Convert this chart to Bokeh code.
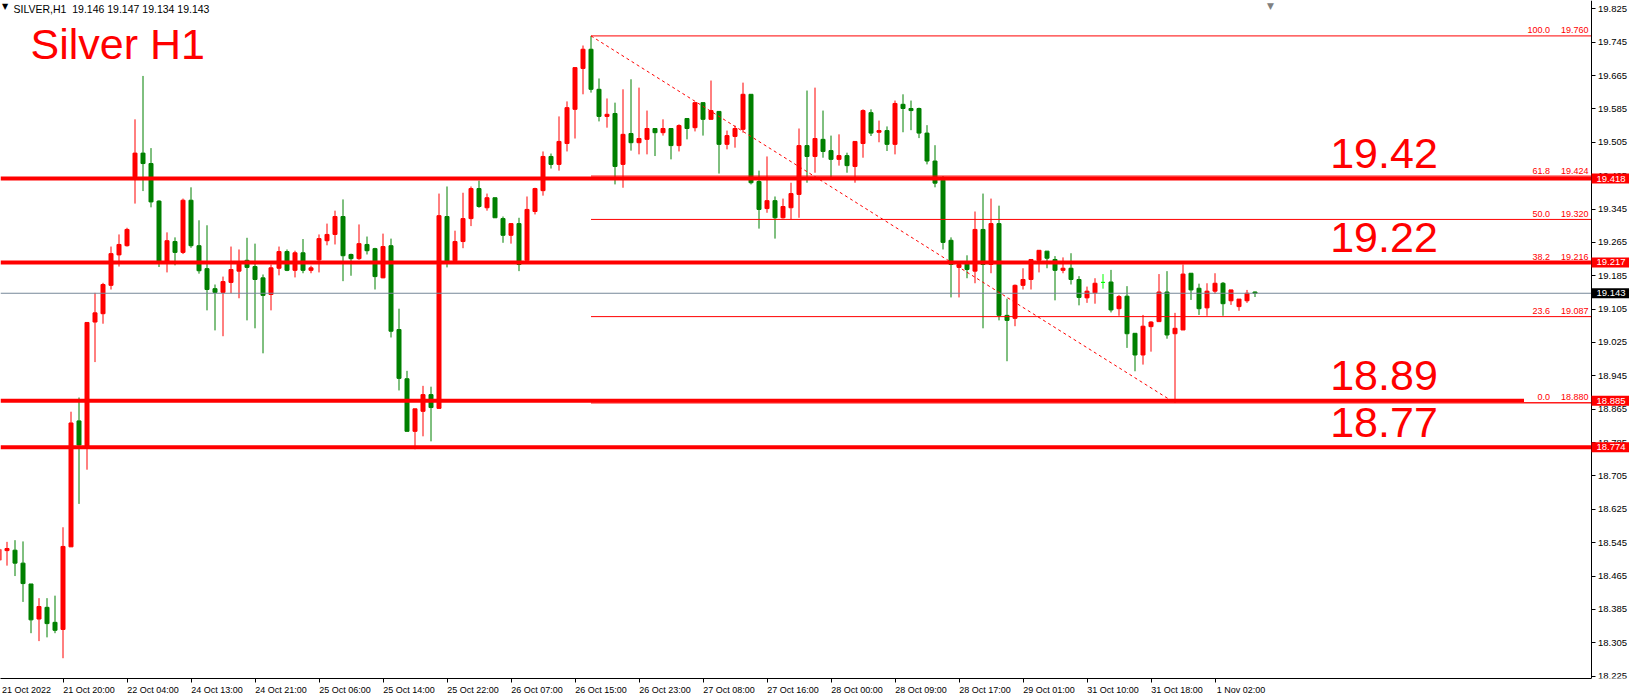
from bokeh.plotting import figure
from bokeh.models import Range1d, FixedTicker, PrintfTickFormatter, Label, BoxAnnotation, ColumnDataSource
from bokeh.embed import file_html
from bokeh.resources import INLINE

# ---------------- data ----------------
first_bar = -1  # bar index of the first candle
opens = [18.503, 18.526, 18.527, 18.496, 18.446, 18.362, 18.390, 18.354, 18.337, 18.535,
         18.837, 18.774, 19.074, 19.094, 19.162, 19.235, 19.257, 19.422, 19.479, 19.454,
         19.364, 19.219, 19.267, 19.241, 19.366, 19.257, 19.202, 19.154, 19.145, 19.169,
         19.196, 19.222, 19.207, 19.180, 19.140, 19.203, 19.243, 19.198, 19.240, 19.198,
         19.223, 19.269, 19.284, 19.327, 19.236, 19.226, 19.260, 19.250, 19.180, 19.257,
         19.056, 18.938, 18.812, 18.860, 18.900, 18.867, 19.327, 19.221, 19.267, 19.322,
         19.394, 19.348, 19.372, 19.322, 19.282, 19.310, 19.222, 19.339, 19.389, 19.471,
         19.452, 19.502, 19.584, 19.682, 19.728, 19.632, 19.567, 19.574, 19.452, 19.526,
         19.504, 19.512, 19.538, 19.528, 19.538, 19.497, 19.562, 19.540, 19.600, 19.560,
         19.579, 19.500, 19.519, 19.536, 19.620, 19.411, 19.346, 19.365, 19.324, 19.348,
         19.380, 19.497, 19.471, 19.512, 19.485, 19.464, 19.473, 19.447, 19.502, 19.576,
         19.529, 19.533, 19.500, 19.596, 19.586, 19.586, 19.527, 19.460, 19.414, 19.270,
         19.205, 19.218, 19.196, 19.296, 19.212, 19.310, 19.090, 19.083, 19.162, 19.176,
         19.222, 19.244, 19.224, 19.198, 19.203, 19.176, 19.132, 19.144, 19.169, 19.170,
         19.106, 19.136, 19.047, 18.995, 19.063, 19.075, 19.146, 19.046, 19.055, 19.191,
         19.155, 19.108, 19.148, 19.167, 19.125, 19.111, 19.125, 19.146]
highs = [18.535, 18.547, 18.551, 18.548, 18.446, 18.412, 18.412, 18.418, 18.582, 18.859,
         18.893, 19.073, 19.144, 19.168, 19.255, 19.284, 19.300, 19.560, 19.664, 19.491,
         19.366, 19.289, 19.277, 19.370, 19.397, 19.318, 19.306, 19.164, 19.183, 19.255,
         19.248, 19.276, 19.262, 19.188, 19.212, 19.255, 19.248, 19.245, 19.273, 19.209,
         19.284, 19.310, 19.341, 19.368, 19.238, 19.308, 19.279, 19.252, 19.286, 19.274,
         19.106, 18.957, 18.866, 18.921, 18.919, 19.382, 19.399, 19.293, 19.384, 19.399,
         19.413, 19.382, 19.372, 19.327, 19.310, 19.324, 19.375, 19.396, 19.483, 19.478,
         19.567, 19.603, 19.684, 19.737, 19.760, 19.658, 19.610, 19.600, 19.632, 19.656,
         19.636, 19.581, 19.538, 19.560, 19.538, 19.548, 19.562, 19.600, 19.600, 19.653,
         19.579, 19.533, 19.545, 19.648, 19.620, 19.437, 19.471, 19.375, 19.370, 19.408,
         19.538, 19.629, 19.636, 19.581, 19.521, 19.524, 19.480, 19.507, 19.584, 19.584,
         19.557, 19.543, 19.605, 19.620, 19.605, 19.588, 19.546, 19.498, 19.424, 19.277,
         19.214, 19.234, 19.339, 19.382, 19.370, 19.353, 19.130, 19.164, 19.203, 19.224,
         19.246, 19.244, 19.232, 19.229, 19.239, 19.184, 19.159, 19.179, 19.189, 19.199,
         19.139, 19.160, 19.047, 19.091, 19.076, 19.189, 19.196, 19.096, 19.212, 19.191,
         19.166, 19.167, 19.191, 19.170, 19.151, 19.129, 19.151, 19.147]
lows = [18.495, 18.490, 18.465, 18.403, 18.328, 18.309, 18.318, 18.328, 18.268, 18.535,
        18.638, 18.720, 18.978, 19.070, 19.152, 19.207, 19.255, 19.358, 19.388, 19.349,
        19.206, 19.193, 19.210, 19.237, 19.252, 19.190, 19.102, 19.054, 19.040, 19.143,
        19.131, 19.078, 19.059, 18.999, 19.102, 19.186, 19.196, 19.181, 19.191, 19.191,
        19.193, 19.258, 19.260, 19.172, 19.185, 19.223, 19.236, 19.152, 19.179, 19.037,
        18.910, 18.812, 18.769, 18.800, 18.788, 18.867, 19.205, 19.221, 19.251, 19.304,
        19.348, 19.341, 19.324, 19.264, 19.262, 19.196, 19.222, 19.332, 19.377, 19.442,
        19.437, 19.483, 19.514, 19.620, 19.624, 19.555, 19.540, 19.404, 19.396, 19.485,
        19.476, 19.476, 19.472, 19.521, 19.464, 19.483, 19.512, 19.531, 19.521, 19.560,
        19.430, 19.488, 19.492, 19.528, 19.404, 19.298, 19.336, 19.274, 19.322, 19.320,
        19.324, 19.408, 19.432, 19.468, 19.416, 19.449, 19.432, 19.408, 19.468, 19.520,
        19.505, 19.484, 19.476, 19.529, 19.534, 19.515, 19.452, 19.397, 19.248, 19.133,
        19.133, 19.179, 19.167, 19.059, 19.191, 19.078, 18.980, 19.064, 19.152, 19.152,
        19.193, 19.203, 19.126, 19.191, 19.164, 19.114, 19.120, 19.118, 19.154, 19.097,
        19.089, 19.012, 18.956, 18.972, 19.003, 19.075, 19.034, 18.880, 19.055, 19.127,
        19.091, 19.089, 19.142, 19.089, 19.115, 19.101, 19.120, 19.134]
closes = [18.529, 18.531, 18.496, 18.447, 18.360, 18.392, 18.351, 18.335, 18.536, 18.832,
          18.779, 19.073, 19.096, 19.164, 19.238, 19.260, 19.296, 19.479, 19.454, 19.362,
          19.218, 19.269, 19.241, 19.366, 19.257, 19.197, 19.152, 19.145, 19.171, 19.200,
          19.213, 19.205, 19.176, 19.138, 19.204, 19.243, 19.198, 19.240, 19.198, 19.204,
          19.274, 19.284, 19.327, 19.233, 19.226, 19.262, 19.245, 19.183, 19.255, 19.052,
          18.939, 18.812, 18.866, 18.900, 18.869, 19.329, 19.220, 19.267, 19.322, 19.394,
          19.351, 19.372, 19.324, 19.282, 19.310, 19.212, 19.344, 19.394, 19.471, 19.452,
          19.507, 19.588, 19.684, 19.728, 19.632, 19.567, 19.572, 19.447, 19.524, 19.504,
          19.514, 19.538, 19.528, 19.538, 19.497, 19.545, 19.538, 19.600, 19.560, 19.581,
          19.500, 19.521, 19.538, 19.620, 19.408, 19.344, 19.365, 19.324, 19.351, 19.382,
          19.497, 19.471, 19.514, 19.483, 19.464, 19.473, 19.449, 19.507, 19.581, 19.527,
          19.533, 19.500, 19.598, 19.586, 19.581, 19.527, 19.460, 19.407, 19.265, 19.212,
          19.212, 19.200, 19.296, 19.212, 19.310, 19.090, 19.078, 19.162, 19.176, 19.224,
          19.246, 19.227, 19.198, 19.203, 19.176, 19.133, 19.148, 19.167, 19.169, 19.103,
          19.135, 19.046, 18.995, 19.064, 19.074, 19.146, 19.043, 19.059, 19.189, 19.151,
          19.106, 19.148, 19.167, 19.118, 19.151, 19.129, 19.143, 19.143]

time_tick_bars = [-1, 7, 15, 23, 31, 39, 47, 55, 63, 71, 79, 87, 95, 103, 111, 119, 127, 135, 143, 151]
time_tick_labels = ["21 Oct 2022", "21 Oct 20:00", "22 Oct 04:00", "24 Oct 13:00", "24 Oct 21:00",
                    "25 Oct 06:00", "25 Oct 14:00", "25 Oct 22:00", "26 Oct 07:00", "26 Oct 15:00",
                    "26 Oct 23:00", "27 Oct 08:00", "27 Oct 16:00", "28 Oct 00:00", "28 Oct 09:00",
                    "28 Oct 17:00", "29 Oct 01:00", "31 Oct 10:00", "31 Oct 18:00", "1 Nov 02:00"]
price_ticks = [18.225, 18.305, 18.385, 18.465, 18.545, 18.625, 18.705, 18.785, 18.865, 18.945,
               19.025, 19.105, 19.185, 19.265, 19.345, 19.425, 19.505, 19.585, 19.665, 19.745, 19.825]

level_prices = [19.418, 19.217, 18.885, 18.774]
level_texts = ["19.42", "19.22", "18.89", "18.77"]
fib_ratios = ["100.0", "61.8", "50.0", "38.2", "23.6", "0.0"]
fib_prices = [19.760, 19.424, 19.320, 19.216, 19.087, 18.880]
fib_from_bar = 73
fib_to_bar = 146
bid_price = 19.143
header_text = "SILVER,H1\u00a0\u00a019.146 19.147 19.134 19.143"
title_text = "Silver H1"

# ---------------- layout ----------------
BAR_PX = 8
PX_PER_PRICE = 417.1
FRAME_W = 1629
FRAME_H = 678
AXIS_PX = 1590.5          # pixel column of the price axis line
x_start = -6.5 / BAR_PX
x_end = x_start + FRAME_W / BAR_PX
axis_x = x_start + AXIS_PX / BAR_PX
y_hi = 19.825 + 8.3 / PX_PER_PRICE
y_lo = y_hi - FRAME_H / PX_PER_PRICE
px = 1.0 / PX_PER_PRICE   # one pixel in price units
RED = "#ff0000"
GREEN = "#008000"
LIME = "#00ff00"
FONT = "Liberation Sans"

p = figure(frame_width=FRAME_W, frame_height=FRAME_H,
           x_range=Range1d(x_start, x_end), y_range=Range1d(y_lo, y_hi),
           y_axis_location="right", output_backend="svg", toolbar_location=None,
           min_border_left=0, min_border_top=0, min_border_right=0, min_border_bottom=0,
           background_fill_color="white", border_fill_color="white", outline_line_color=None)
p.grid.visible = False

# x axis: small tick marks at bars, label placed just right of the mark
label_pos = [max(t, x_start) + 3.25 for t in time_tick_bars]
p.xaxis.ticker = FixedTicker(ticks=label_pos, minor_ticks=time_tick_bars)
p.xaxis.major_label_overrides = {pos: lab for pos, lab in zip(label_pos, time_tick_labels)}
p.xaxis.bounds = (x_start, axis_x)
p.xaxis.major_tick_out = 0
p.xaxis.major_tick_in = 0
p.xaxis.minor_tick_out = 4
p.xaxis.minor_tick_in = 0
p.xaxis.minor_tick_line_color = "black"
p.xaxis.axis_line_color = "black"
p.xaxis.major_label_standoff = 2
p.xaxis.major_label_text_font = FONT
p.xaxis.major_label_text_font_size = "9px"
p.xaxis.major_label_text_color = "black"

# price axis drawn inside the frame at a fixed x position
p.yaxis.fixed_location = axis_x
p.yaxis.ticker = FixedTicker(ticks=price_ticks, minor_ticks=[])
p.yaxis.formatter = PrintfTickFormatter(format="%.3f")
p.yaxis.major_tick_out = 4
p.yaxis.major_tick_in = 0
p.yaxis.minor_tick_out = 0
p.yaxis.minor_tick_in = 0
p.yaxis.major_label_standoff = 3
p.yaxis.axis_line_color = "black"
p.yaxis.major_label_text_font = FONT
p.yaxis.major_label_text_font_size = "9.5px"
p.yaxis.major_label_text_color = "black"

# ---------------- candles ----------------
bars = list(range(first_bar, first_bar + len(opens)))
colors = [RED if c > o else (GREEN if c < o else LIME) for o, c in zip(opens, closes)]
src = ColumnDataSource(dict(x=bars, high=highs, low=lows,
                            top=[max(o, c) for o, c in zip(opens, closes)],
                            bottom=[min(o, c) for o, c in zip(opens, closes)],
                            color=colors))
p.segment(x0="x", y0="low", x1="x", y1="high", line_color="color", line_width=1, source=src)
p.vbar(x="x", width=0.5, top="top", bottom="bottom", fill_color="color",
       line_color="color", line_width=1, source=src)

# ---------------- levels / fibo ----------------
n_lv = len(level_prices)
p.segment(x0=[x_start] * n_lv, y0=level_prices, x1=[axis_x] * n_lv, y1=level_prices,
          line_color=RED, line_width=4)
p.segment(x0=[x_start], y0=[bid_price], x1=[axis_x], y1=[bid_price],
          line_color="#778899", line_width=1)
n_fb = len(fib_prices)
p.segment(x0=[fib_from_bar] * n_fb, y0=fib_prices, x1=[axis_x] * n_fb, y1=fib_prices,
          line_color=RED, line_width=1)
p.line(x=[fib_from_bar, fib_to_bar],
       y=[highs[fib_from_bar - first_bar], lows[fib_to_bar - first_bar]],
       line_color=RED, line_width=1, line_dash="3 3")

for lv, txt in zip(level_prices, level_texts):
    p.add_layout(Label(x=165.4, y=lv + 25 * px, text=txt, text_font=FONT,
                       text_font_size="43px", text_color=RED,
                       text_align="left", text_baseline="middle"))

# white box behind the 0.0 fibo label
p.add_layout(BoxAnnotation(left=axis_x - 67 / BAR_PX, right=axis_x,
                           bottom=fib_prices[-1] + 1.0 * px, top=fib_prices[-1] + 9 * px,
                           fill_color="white", fill_alpha=1.0, line_color=None))

for r, pr in zip(fib_ratios, fib_prices):
    p.add_layout(Label(x=axis_x, y=pr + 5.5 * px, x_offset=-41, text=r,
                       text_font=FONT, text_font_size="9px", text_color=RED,
                       text_align="right", text_baseline="middle"))
    p.add_layout(Label(x=axis_x, y=pr + 5.5 * px, x_offset=-2.5, text=f"{pr:.3f}",
                       text_font=FONT, text_font_size="9px", text_color=RED,
                       text_align="right", text_baseline="middle"))

# price boxes on the axis
box_specs = [(pr, RED) for pr in level_prices] + [(bid_price, "black")]
for pr, col in box_specs:
    p.add_layout(BoxAnnotation(left=axis_x + 0.5 / BAR_PX, right=x_end,
                               bottom=pr - 5 * px, top=pr + 5 * px,
                               fill_color=col, fill_alpha=1.0, line_color=None))
    p.add_layout(Label(x=axis_x, y=pr, x_offset=5.5, text=f"{pr:.3f}",
                       text_font=FONT, text_font_size="9.5px", text_color="white",
                       text_align="left", text_baseline="middle"))

# header, title and chart-shift marker
p.add_layout(Label(x=4.5, y=FRAME_H - 6, x_units="screen", y_units="screen", text="\u25bc",
                   text_font="DejaVu Sans", text_font_size="8px", text_color="black",
                   text_align="center", text_baseline="middle"))
p.add_layout(Label(x=13, y=FRAME_H - 8, x_units="screen", y_units="screen", text=header_text,
                   text_font=FONT, text_font_size="10.5px", text_color="black",
                   text_baseline="middle"))
p.add_layout(Label(x=30, y=FRAME_H - 43.5, x_units="screen", y_units="screen", text=title_text,
                   text_font=FONT, text_font_size="43px", text_color=RED,
                   text_baseline="middle"))
p.add_layout(Label(x=1270, y=FRAME_H - 5, x_units="screen", y_units="screen", text="\u25bc",
                   text_font="DejaVu Sans", text_font_size="9px", text_color="#808080",
                   text_align="center", text_baseline="middle"))

open("out.html", "w").write(file_html(p, INLINE))
